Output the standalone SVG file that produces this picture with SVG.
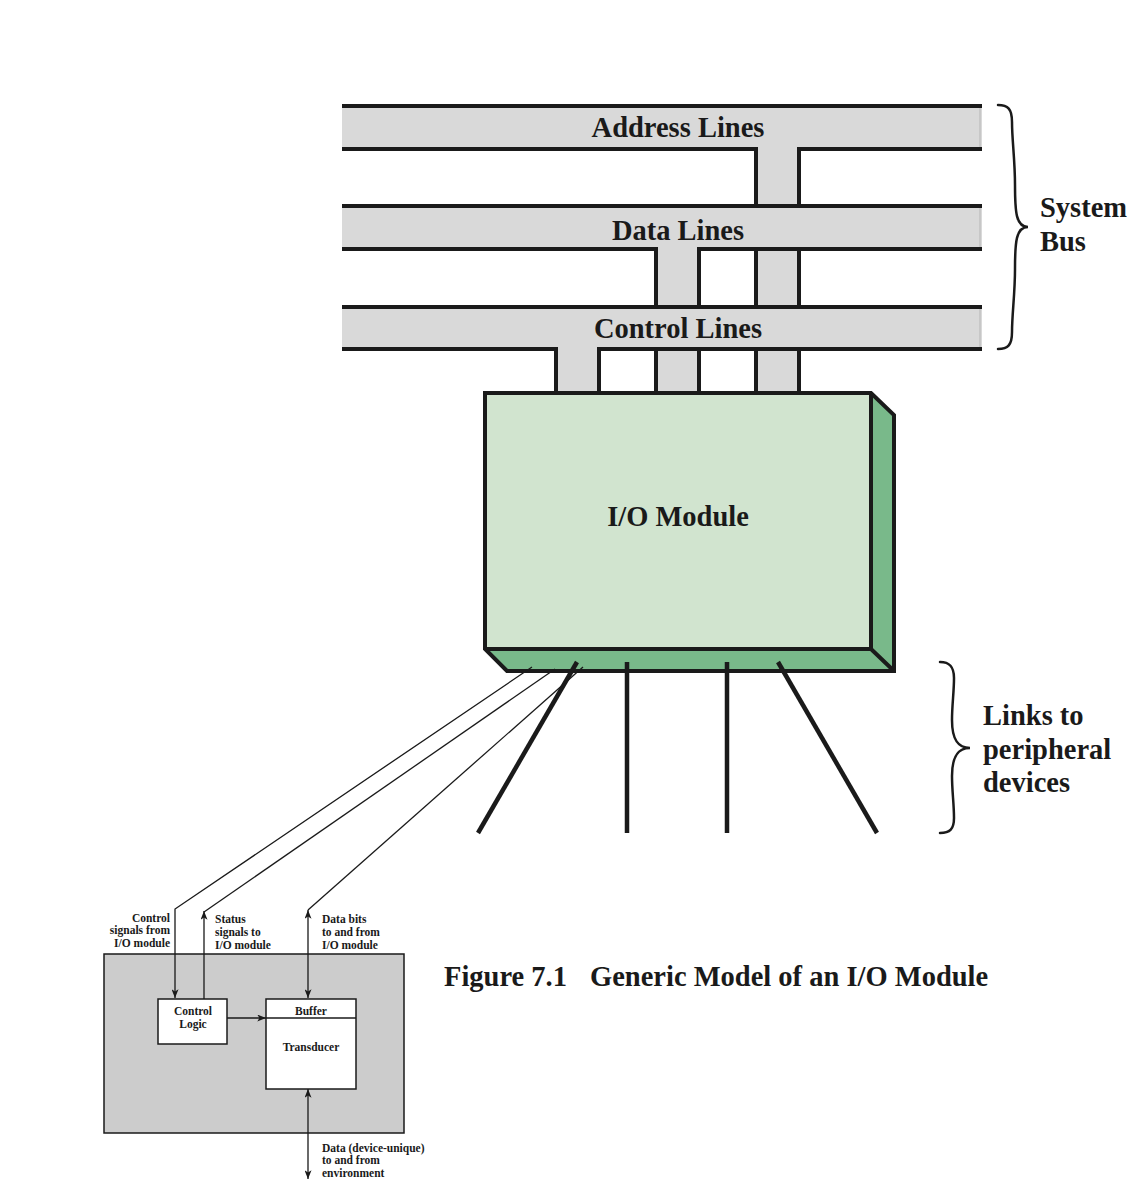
<svg xmlns="http://www.w3.org/2000/svg" width="1142" height="1188" viewBox="0 0 1142 1188">
<style>
  .big { font-family: "Liberation Serif", "Times New Roman", serif; font-weight: bold; font-size: 28.5px; fill: #1a1a1a; }
  .sm { font-family: "Liberation Serif", "Times New Roman", serif; font-weight: bold; font-size: 11.5px; fill: #1a1a1a; }
  .bar { fill: #d9d9d9; stroke: none; }
  .edge { stroke: #1a1a1a; stroke-width: 4; fill: none; stroke-linecap: butt; }
  .thin { stroke: #1a1a1a; stroke-width: 1.3; fill: none; }
  .link { stroke: #1a1a1a; stroke-width: 4.5; fill: none; }
  .brace { stroke: #1a1a1a; stroke-width: 2.5; fill: none; stroke-linecap: round; }
  .box { fill: #ffffff; stroke: #1a1a1a; stroke-width: 1.5; }
</style>
<defs>
  <marker id="ah" viewBox="0 0 10 8" refX="10" refY="4" markerWidth="9" markerHeight="7" markerUnits="userSpaceOnUse" orient="auto-start-reverse">
    <path d="M0,0 L10,4 L0,8 L2.5,4 Z" fill="#1a1a1a"/>
  </marker>
</defs>
<rect width="1142" height="1188" fill="#ffffff"/>

<!-- Stubs (behind bars) -->
<g id="stubs">
  <rect class="bar" x="756" y="149" width="43" height="244"/>
  <path class="edge" d="M756,147 V393 M799,147 V393"/>
  <rect class="bar" x="656" y="249" width="43" height="144"/>
  <path class="edge" d="M656,247 V393 M699,247 V393"/>
  <rect class="bar" x="556" y="349" width="43" height="44"/>
  <path class="edge" d="M556,347 V393 M599,347 V393"/>
</g>

<g id="address-lines">
  <rect class="bar" x="342" y="106" width="640" height="43"/>
  <line x1="980" y1="108" x2="980" y2="147" stroke="#b5b5b5" stroke-width="1"/>
  <path class="edge" d="M342,106 H982 M342,149 H758 M797,149 H982"/>
  <text class="big" x="678" y="137" text-anchor="middle">Address Lines</text>
</g>
<g id="data-lines">
  <rect class="bar" x="342" y="206" width="640" height="43"/>
  <line x1="980" y1="208" x2="980" y2="247" stroke="#b5b5b5" stroke-width="1"/>
  <path class="edge" d="M342,206 H982 M342,249 H658 M697,249 H982"/>
  <text class="big" x="678" y="240" text-anchor="middle">Data Lines</text>
</g>
<g id="control-lines">
  <rect class="bar" x="342" y="307" width="640" height="42"/>
  <line x1="980" y1="309" x2="980" y2="347" stroke="#b5b5b5" stroke-width="1"/>
  <path class="edge" d="M342,307 H982 M342,349 H558 M597,349 H982"/>
  <text class="big" x="678" y="338" text-anchor="middle">Control Lines</text>
</g>

<g id="system-bus-label">
  <path class="brace" d="M998,105 C1008,105 1012,109 1012,122 C1012,140 1015,160 1015,185 C1015,212 1016,227 1028,227 C1016,227 1015,242 1015,269 C1015,294 1012,314 1012,332 C1012,345 1008,349 998,349"/>
  <text class="big" x="1040" y="217">System</text>
  <text class="big" x="1040" y="251">Bus</text>
</g>

<g id="io-module">
  <polygon points="871,393 894,415 894,671 871,649" fill="#79b98a"/>
  <polygon points="485,649 871,649 894,671 507,671" fill="#79b98a"/>
  <rect x="485" y="393" width="386" height="256" fill="#d1e4cf"/>
  <path d="M485,393 H871 L894,415 V671 H507 L485,649 Z M871,393 V649 H485 M871,649 L894,671" fill="none" stroke="#1a1a1a" stroke-width="4" stroke-linejoin="miter"/>
  <text class="big" x="678" y="526" text-anchor="middle">I/O Module</text>
</g>

<g id="peripheral-links">
  <line class="link" x1="577" y1="662" x2="478" y2="833"/>
  <line class="link" x1="627" y1="662" x2="627" y2="833"/>
  <line class="link" x1="727" y1="662" x2="727" y2="833"/>
  <line class="link" x1="778" y1="662" x2="877" y2="833"/>
</g>

<g id="links-label">
  <path class="brace" d="M940,662 C950,662 954,667 954,678 C954,692 952,705 952,720 C952,740 958,748 970,748 C958,748 952,756 952,776 C952,791 954,804 954,818 C954,829 950,833 940,833"/>
  <text class="big" x="983" y="725">Links to</text>
  <text class="big" x="983" y="759">peripheral</text>
  <text class="big" x="983" y="792">devices</text>
</g>

<g id="device">
  <rect x="104" y="954" width="300" height="179" fill="#cccccc" stroke="#1a1a1a" stroke-width="1.5"/>
</g>
<g id="control-logic">
  <rect class="box" x="158" y="999" width="69" height="45"/>
  <text class="sm" x="193" y="1015" text-anchor="middle">Control</text>
  <text class="sm" x="193" y="1028" text-anchor="middle">Logic</text>
</g>
<g id="buffer-transducer">
  <rect class="box" x="266" y="999" width="90" height="90"/>
  <line x1="266" y1="1018" x2="356" y2="1018" stroke="#1a1a1a" stroke-width="1.5"/>
  <text class="sm" x="311" y="1015" text-anchor="middle">Buffer</text>
  <text class="sm" x="311" y="1051" text-anchor="middle">Transducer</text>
</g>

<g id="connectors">
  <polyline class="thin" points="532,667 175,909 175,998" marker-end="url(#ah)"/>
  <line class="thin" x1="555" y1="669" x2="204" y2="912"/>
  <line class="thin" x1="204" y1="999" x2="204" y2="911" marker-end="url(#ah)"/>
  <line class="thin" x1="583" y1="667" x2="308" y2="910"/>
  <line class="thin" x1="308" y1="910" x2="308" y2="998" marker-start="url(#ah)" marker-end="url(#ah)"/>
  <line class="thin" x1="227" y1="1018" x2="266" y2="1018" marker-end="url(#ah)"/>
  <line class="thin" x1="308" y1="1089" x2="308" y2="1179" marker-start="url(#ah)" marker-end="url(#ah)"/>
</g>

<g id="signal-labels">
  <text class="sm" x="170" y="922" text-anchor="end">Control</text>
  <text class="sm" x="170" y="934" text-anchor="end">signals from</text>
  <text class="sm" x="170" y="947" text-anchor="end">I/O module</text>
  <text class="sm" x="215" y="923">Status</text>
  <text class="sm" x="215" y="936">signals to</text>
  <text class="sm" x="215" y="949">I/O module</text>
  <text class="sm" x="322" y="923">Data bits</text>
  <text class="sm" x="322" y="936">to and from</text>
  <text class="sm" x="322" y="949">I/O module</text>
  <text class="sm" x="322" y="1152">Data (device-unique)</text>
  <text class="sm" x="322" y="1164">to and from</text>
  <text class="sm" x="322" y="1177">environment</text>
</g>

<g id="caption">
  <text class="big" x="444" y="986">Figure 7.1<tspan x="590">Generic Model of an I/O Module</tspan></text>
</g>
</svg>
